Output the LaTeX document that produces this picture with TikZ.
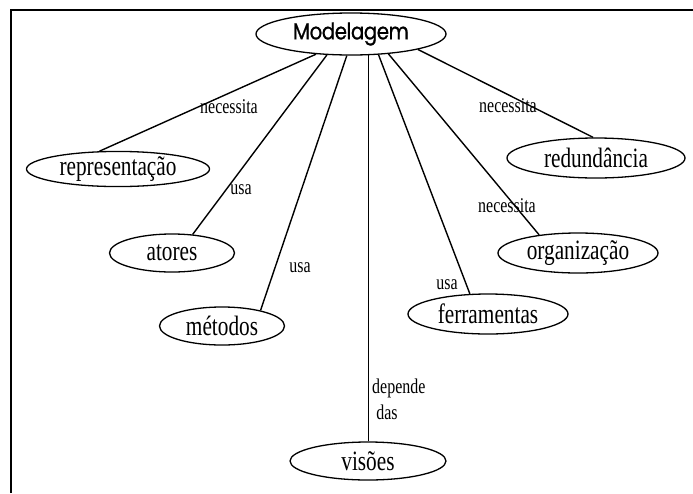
\documentclass[tikz,border=0pt]{standalone}
\usepackage{fontspec}
\setmainfont{Liberation Serif}
\newfontfamily\condserif[FakeStretch=0.76]{Liberation Serif}
\newfontfamily\titlesans[FakeStretch=0.86,FakeBold=0.8,LetterSpace=-2]{Poppins}
\usetikzlibrary{shapes.geometric}
\begin{document}
\begin{tikzpicture}[x=1pt,y=-1pt,
  concept/.style={draw, ellipse, line width=1.3pt, inner sep=0pt,
    font=\condserif\fontsize{28}{28}\selectfont},
  link/.style={line width=1.4pt},
  lbl/.style={inner sep=0pt, font=\condserif\fontsize{21}{21}\selectfont}]
\useasboundingbox (0,0) rectangle (693,493);
% frame (top and left edges)
\draw[line width=2.6pt] (11,493) -- (11,10) -- (693,10);

% concepts
\node[concept, minimum width=190pt, minimum height=42pt,
  font=\titlesans\fontsize{23}{23}\selectfont] (m) at (351,34) {Modelagem};
\node[concept, minimum width=183pt, minimum height=35pt] (rep) at (118,169) {representação};
\node[concept, minimum width=178pt, minimum height=40pt] (red) at (596,158) {redundância};
\node[concept, minimum width=125pt, minimum height=38pt] (ato) at (172,253) {atores};
\node[concept, minimum width=160pt, minimum height=40pt] (org) at (578,253) {organização};
\node[concept, minimum width=125pt, minimum height=38pt] (met) at (222,326) {métodos};
\node[concept, minimum width=160pt, minimum height=40pt] (fer) at (488,314) {ferramentas};
\node[concept, minimum width=156pt, minimum height=38pt] (vis) at (368,461) {visões};

% connectors
\draw[link] (m.210.8) -- (rep.136.4);
\draw[link] (m.221.6) -- (ato.42);
\draw[link] (m.259.2) -- (met.22.3);
\draw[line width=1pt] (m.309.5) -- (m.309.5 |- vis.north);
\draw[link] (m.323.3) -- (fer.132.7);
\draw[link] (m.332.4) -- (org.155.2);
\draw[link] (m.347.5) -- (red.98);

% connector labels
\node[lbl] (l1) at (229,107) {necessita};
\node[lbl] (l2) at (241,190) {usa};
\node[lbl] (l3) at (300,268) {usa};
\node[lbl, anchor=west] (l4) at (372,388) {depende};
\node[lbl] (l4b) at (387,412) {das};
\node[lbl] (l5) at (447,285) {usa};
\node[lbl] (l6) at (507,206) {necessita};
\node[lbl] (l7) at (508,106) {necessita};
\end{tikzpicture}
\end{document}
